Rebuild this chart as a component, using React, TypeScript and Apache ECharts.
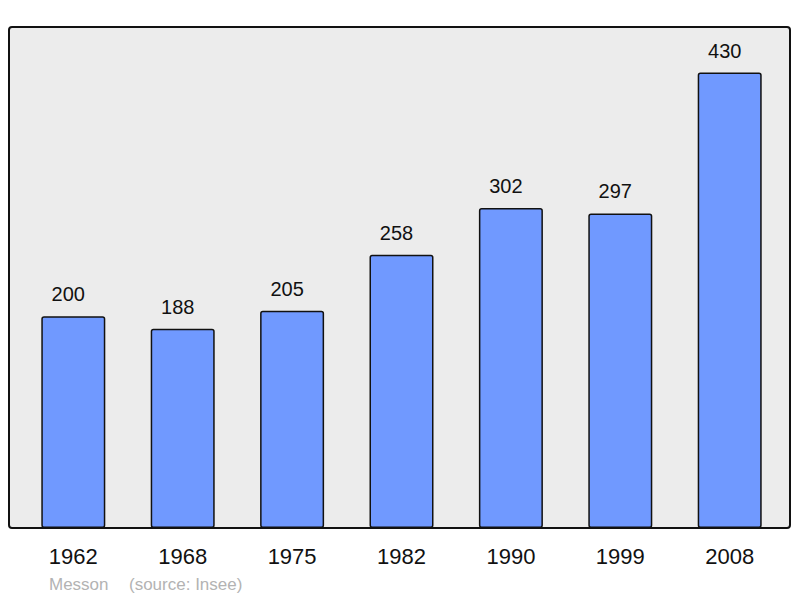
import React, { useEffect, useRef } from "react";
import * as echarts from "echarts";

const years = ["1962", "1968", "1975", "1982", "1990", "1999", "2008"];
const population = [200, 188, 205, 258, 302, 297, 430];
const commune = "Messon";
const source = "(source: Insee)";

export default function App() {
  const ref = useRef<HTMLDivElement>(null);
  useEffect(() => {
    const chart = echarts.init(ref.current!, null, { renderer: "svg" });
    chart.setOption({
      animation: false,
      backgroundColor: "#ffffff",
      textStyle: { fontFamily: "Liberation Sans, Arial, sans-serif" },
      grid: { left: 18.6, right: 15.6, top: 27, bottom: 70, containLabel: false },
      graphic: [
        {
          type: "rect",
          z: -10,
          shape: { x: 9, y: 27, width: 781, height: 501, r: 3 },
          style: { fill: "#ececec", stroke: "none" },
        },
        {
          type: "rect",
          z: 100,
          shape: { x: 9, y: 27, width: 781, height: 501, r: 3 },
          style: { fill: "none", stroke: "#111111", lineWidth: 2 },
        },
        {
          type: "text",
          x: 49,
          y: 584,
          style: {
            text: commune,
            fill: "#b3b3b3",
            fontSize: 17,
            fontFamily: "Liberation Sans, Arial, sans-serif",
            verticalAlign: "middle",
          },
        },
        {
          type: "text",
          x: 129,
          y: 584,
          style: {
            text: source,
            fill: "#b3b3b3",
            fontSize: 17,
            fontFamily: "Liberation Sans, Arial, sans-serif",
            verticalAlign: "middle",
          },
        },
      ],
      xAxis: {
        type: "category",
        data: years,
        axisLine: { show: false },
        axisTick: { show: false },
        axisLabel: {
          color: "#111111",
          fontSize: 22,
          margin: 17,
          fontFamily: "Liberation Sans, Arial, sans-serif",
        },
      },
      yAxis: {
        type: "value",
        min: 0,
        max: 473,
        show: false,
        splitLine: { show: false },
      },
      series: [
        {
          type: "bar",
          data: population,
          barWidth: 64,
          itemStyle: {
            color: "#7099ff",
            borderColor: "#111111",
            borderWidth: 1.5,
            borderRadius: 2,
          },
          label: {
            show: true,
            position: "top",
            distance: 12,
            offset: [-5, 0],
            color: "#111111",
            fontSize: 20,
            fontFamily: "Liberation Sans, Arial, sans-serif",
          },
        },
      ],
    });
    return () => chart.dispose();
  }, []);
  return <div ref={ref} style={{ width: 800, height: 598, position: "absolute", left: 0, top: 0 }} />;
}
